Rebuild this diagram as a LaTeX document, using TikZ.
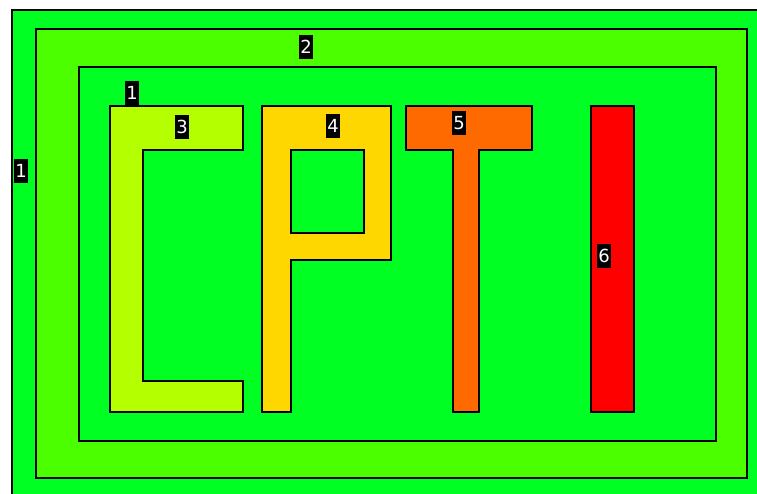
\documentclass[tikz,border=0pt]{standalone}
\usepackage{fontspec}
\setmainfont{DejaVu Sans}
\definecolor{gA}{HTML}{00FF22}
\definecolor{gB}{HTML}{4CFF00}
\definecolor{cC}{HTML}{B4FF00}
\definecolor{cP}{HTML}{FFD700}
\definecolor{cT}{HTML}{FF6A00}
\definecolor{cI}{HTML}{FF0000}
\begin{document}
\begin{tikzpicture}[x=1pt,y=-1pt,
  region/.style={draw=black,line width=2.8pt,line join=miter},
  lab/.style={fill=black,text=white,font=\fontsize{18}{18}\selectfont,inner xsep=1pt,inner ysep=0pt,minimum height=24pt}]
\useasboundingbox (0,0) rectangle (757,493);
\clip (0,0) rectangle (757,493);
\fill[white] (0,0) rectangle (757,493);
\path[region,fill=gA] (12,10) rectangle (780,520);
\path[region,fill=gB] (36,29) rectangle (747,478);
\path[region,fill=gA] (79,67) rectangle (716,441);
% C
\path[region,fill=cC] (110,106) -- (243,106) -- (243,150) -- (143,150) -- (143,381) -- (243,381) -- (243,412) -- (110,412) -- cycle;
% P
\path[region,fill=cP,even odd rule] (262,106) -- (391,106) -- (391,260) -- (291,260) -- (291,412) -- (262,412) -- cycle
  (291,150) -- (364,150) -- (364,233) -- (291,233) -- cycle;
% T
\path[region,fill=cT] (406,106) -- (532,106) -- (532,150) -- (479,150) -- (479,412) -- (453,412) -- (453,150) -- (406,150) -- cycle;
% I
\path[region,fill=cI] (591,106) rectangle (634,412);
% labels
\node[lab] (l2) at (306,47) {2};
\node[lab] (l1a) at (132,93) {1};
\node[lab] (l1b) at (21,171) {1};
\node[lab] (l3) at (182,127) {3};
\node[lab] (l4) at (333,126) {4};
\node[lab] (l5) at (459,123) {5};
\node[lab] (l6) at (604,256) {6};
\end{tikzpicture}
\end{document}
